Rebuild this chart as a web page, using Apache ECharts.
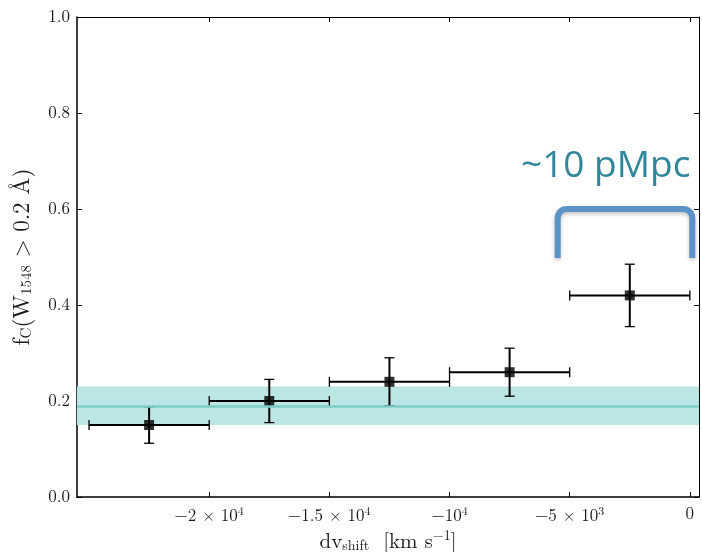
<!DOCTYPE html>
<html>
<head>
<meta charset="utf-8">
<script src="https://cdn.jsdelivr.net/npm/echarts@6/dist/echarts.min.js"></script>
<style>
  html, body { margin: 0; padding: 0; background: #fff; }
  #chart { width: 702px; height: 552px; }
</style>
</head>
<body>
<div id="chart"></div>
<script>
// Velocity-shift bins (km/s) and covering fraction per bin
const binCenter = [-22500, -17500, -12500, -7500, -2500];
const binLow    = [-25000, -20000, -15000, -10000, -5000];
const binHigh   = [-20000, -15000, -10000, -5000, 0];
const fC        = [0.15, 0.20, 0.24, 0.26, 0.42];
const fCLow     = [0.112, 0.155, 0.19, 0.21, 0.355];
const fCHigh    = [0.188, 0.245, 0.29, 0.31, 0.485];

// Random-sightline level with its 1-sigma band
const bgMean = 0.19;
const bgLow = 0.15;
const bgHigh = 0.23;

// Axis ticks
const xTicks = [-20000, -15000, -10000, -5000, 0];
const xTickLabels = ['−2 × 10{sup|4}', '−1.5 × 10{sup|4}', '−10{sup|4}', '−5 × 10{sup|3}', '0'];
const xRange = [-25500, 380];

// Scale bracket annotation (data units) and its caption
const bracketX = [-5500, 100];
const bracketY = [0.498, 0.6];
const bracketCaption = '~10 pMpc';

const serif = '"Latin Modern Roman", "CMU Serif", "Liberation Serif", "DejaVu Serif", serif';
const ink = '#1a1a1a';
const chart = echarts.init(document.getElementById('chart'), null, { renderer: 'canvas' });

const errData = binCenter.map((c, i) => [c, fC[i], binLow[i], binHigh[i], fCLow[i], fCHigh[i]]);

function renderErr(params, api) {
  const l = api.coord([api.value(2), api.value(1)]);
  const r = api.coord([api.value(3), api.value(1)]);
  const lo = api.coord([api.value(0), api.value(4)]);
  const hi = api.coord([api.value(0), api.value(5)]);
  const cap = 5;
  const st = { stroke: '#000', lineWidth: 2 };
  const cs = { stroke: '#000', lineWidth: 1.3 };
  return {
    type: 'group',
    children: [
      { type: 'line', shape: { x1: l[0], y1: l[1], x2: r[0], y2: r[1] }, style: st },
      { type: 'line', shape: { x1: l[0], y1: l[1] - cap, x2: l[0], y2: l[1] + cap }, style: cs },
      { type: 'line', shape: { x1: r[0], y1: r[1] - cap, x2: r[0], y2: r[1] + cap }, style: cs },
      { type: 'line', shape: { x1: lo[0], y1: lo[1], x2: hi[0], y2: hi[1] }, style: st },
      { type: 'line', shape: { x1: lo[0] - cap, y1: lo[1], x2: lo[0] + cap, y2: lo[1] }, style: cs },
      { type: 'line', shape: { x1: hi[0] - cap, y1: hi[1], x2: hi[0] + cap, y2: hi[1] }, style: cs }
    ]
  };
}

const tickStyle = { show: true, inside: true, length: 5, lineStyle: { color: '#000', width: 1 } };

const option = {
  backgroundColor: '#fff',
  animation: false,
  grid: { left: 77, right: 3, top: 17, bottom: 55, containLabel: false, outerBoundsMode: 'none' },
  xAxis: [
    {
      type: 'value',
      min: xRange[0], max: xRange[1],
      position: 'bottom',
      axisLine: { show: true, onZero: false, lineStyle: { color: '#000', width: 1.5 } },
      axisTick: Object.assign({}, tickStyle, { customValues: xTicks }),
      axisLabel: {
        customValues: xTicks,
        margin: 8,
        fontFamily: serif, fontSize: 17, color: ink,
        formatter: (v) => xTickLabels[xTicks.indexOf(v)] ?? '',
        rich: { sup: { fontFamily: serif, fontSize: 12, color: ink, padding: [0, 0, 9, 0] } }
      },
      splitLine: { show: false },
      name: 'dv{sub|shift}  [km s{sup|−1}]',
      nameLocation: 'middle',
      nameGap: 29,
      nameTextStyle: {
        fontFamily: serif, fontSize: 21, color: ink,
        rich: {
          sub: { fontFamily: serif, fontSize: 14, color: ink, padding: [9, 0, 0, 0] },
          sup: { fontFamily: serif, fontSize: 14, color: ink, padding: [0, 0, 11, 0] }
        }
      }
    },
    {
      type: 'value',
      min: xRange[0], max: xRange[1],
      position: 'top',
      axisLine: { show: true, onZero: false, lineStyle: { color: '#000', width: 1 } },
      axisTick: Object.assign({}, tickStyle, { customValues: xTicks }),
      axisLabel: { show: false },
      splitLine: { show: false }
    }
  ],
  yAxis: [
    {
      type: 'value',
      min: 0, max: 1, interval: 0.2,
      position: 'left',
      axisLine: { show: true, onZero: false, lineStyle: { color: '#000', width: 1.5 } },
      axisTick: tickStyle,
      axisLabel: {
        margin: 7,
        fontFamily: serif, fontSize: 17, color: ink,
        formatter: (v) => v.toFixed(1)
      },
      splitLine: { show: false },
      name: 'f{sub|C}(W{sub|1548} > 0.2 Å)',
      nameLocation: 'middle',
      nameGap: 43,
      nameRotate: 90,
      nameTextStyle: {
        fontFamily: serif, fontSize: 23, color: ink,
        rich: { sub: { fontFamily: serif, fontSize: 15, color: ink, padding: [9, 0, 0, 0] } }
      }
    },
    {
      type: 'value',
      min: 0, max: 1, interval: 0.2,
      position: 'right',
      axisLine: { show: true, onZero: false, lineStyle: { color: '#000', width: 1 } },
      axisTick: tickStyle,
      axisLabel: { show: false },
      splitLine: { show: false }
    }
  ],
  series: [
    {
      // random-sightline band and mean
      type: 'line',
      data: [],
      silent: true,
      z: 1,
      markArea: {
        silent: true,
        itemStyle: { color: '#bbe6e3' },
        data: [[{ yAxis: bgLow }, { yAxis: bgHigh }]]
      },
      markLine: {
        silent: true,
        symbol: ['none', 'none'],
        label: { show: false },
        lineStyle: { color: '#7ecdc7', width: 2.5, type: 'solid' },
        data: [{ yAxis: bgMean }]
      }
    },
    {
      type: 'custom',
      renderItem: renderErr,
      data: errData,
      encode: { x: [0, 2, 3], y: [1, 4, 5] },
      z: 3
    },
    {
      type: 'scatter',
      data: binCenter.map((c, i) => [c, fC[i]]),
      symbol: 'rect',
      symbolSize: 10,
      itemStyle: { color: '#000' },
      z: 4
    }
  ]
};

chart.setOption(option);

// Scale bracket drawn in data coordinates (rounded top corners), caption above it
const p0 = chart.convertToPixel({ xAxisIndex: 0, yAxisIndex: 0 }, [bracketX[0], bracketY[0]]);
const p1 = chart.convertToPixel({ xAxisIndex: 0, yAxisIndex: 0 }, [bracketX[1], bracketY[1]]);
const rad = 9;
const pts = [[p0[0], p0[1]]];
for (let k = 0; k <= 8; k++) {
  const a = Math.PI - (k / 8) * (Math.PI / 2);
  pts.push([p0[0] + rad + rad * Math.cos(a), p1[1] + rad - rad * Math.sin(a)]);
}
for (let k = 0; k <= 8; k++) {
  const a = Math.PI / 2 - (k / 8) * (Math.PI / 2);
  pts.push([p1[0] - rad + rad * Math.cos(a), p1[1] + rad - rad * Math.sin(a)]);
}
pts.push([p1[0], p0[1]]);

chart.setOption({
  graphic: [
    {
      type: 'polyline',
      shape: { points: pts },
      style: {
        fill: null, stroke: '#5b93c9', lineWidth: 6, lineJoin: 'round',
        shadowBlur: 4, shadowColor: 'rgba(0,0,0,0.25)', shadowOffsetY: 2
      },
      z: 10
    },
    {
      type: 'text',
      left: 521,
      top: 148,
      style: {
        text: bracketCaption,
        fontFamily: '"Open Sans", "Noto Sans", sans-serif',
        fontSize: 37,
        fill: '#31869c'
      },
      z: 10
    }
  ]
});
</script>
</body>
</html>
